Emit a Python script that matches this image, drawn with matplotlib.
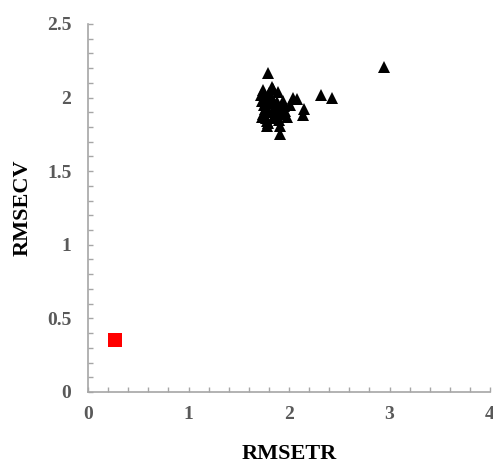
import matplotlib
matplotlib.use('Agg')
import matplotlib.pyplot as plt
from matplotlib.ticker import MultipleLocator

# RMSETR vs RMSECV values
tri_x = [1.79, 2.94, 2.32, 2.43, 2.15, 2.14, 1.91, 2.04, 2.08, 1.74, 1.83, 1.84, 1.89,
         1.94, 1.98, 1.78, 1.91, 1.72, 1.73, 1.75, 1.76, 1.74, 1.77, 1.78, 1.80, 1.81,
         1.82, 1.85, 1.86, 1.88, 1.90, 1.92, 1.95, 1.73, 1.76, 1.79, 1.83, 1.87, 1.93,
         1.75, 1.80, 1.84, 1.96, 2.01, 1.77]
tri_y = [2.17, 2.21, 2.02, 2.00, 1.92, 1.88, 1.75, 2.00, 1.99, 2.05, 2.07, 2.06, 2.04,
         1.98, 1.87, 1.81, 1.81, 2.02, 1.98, 1.95, 1.92, 1.89, 1.86, 1.84, 1.90, 1.96,
         2.01, 1.93, 1.88, 1.97, 1.85, 1.91, 1.94, 1.87, 2.00, 1.83, 1.98, 1.95, 1.89,
         1.99, 2.03, 1.86, 1.91, 1.95, 1.97]
sq_x = [0.27]
sq_y = [0.35]

plt.rcParams['font.family'] = ['Liberation Serif', 'DejaVu Serif']
fig = plt.figure(figsize=(4.93, 4.70), dpi=100)
ax = fig.add_axes([0.1785, 0.166, 0.8155, 0.783])

ax.plot(tri_x, tri_y, '^', color='black', markersize=8, markeredgewidth=0)
ax.plot(sq_x, sq_y, 's', color='#ff0000', markersize=10, markeredgewidth=0)

ax.set_xlim(0, 4)
ax.set_ylim(0, 2.5)
ax.xaxis.set_major_locator(MultipleLocator(1))
ax.xaxis.set_minor_locator(MultipleLocator(0.2))
ax.yaxis.set_minor_locator(MultipleLocator(0.1))
ax.set_yticks([0, 0.5, 1, 1.5, 2, 2.5])
ax.set_yticklabels(['0', '0.5', '1', '1.5', '2', '2.5'])

grey = '#a6a6a6'
for s in ['top', 'right']:
    ax.spines[s].set_visible(False)
for s in ['left', 'bottom']:
    ax.spines[s].set_color(grey)
    ax.spines[s].set_linewidth(1.2)
ax.tick_params(which='both', direction='in', length=3.5, width=1, color=grey,
               labelsize=14, labelcolor='#595959')
ax.tick_params(axis='x', pad=10)
ax.tick_params(axis='y', pad=12)
for lab in ax.get_xticklabels() + ax.get_yticklabels():
    lab.set_fontweight('bold')

ax.set_xlabel('RMSETR', fontsize=16, fontweight='bold', labelpad=15)
ax.set_ylabel('RMSECV', fontsize=16, fontweight='bold', labelpad=10)

fig.savefig('out.png', dpi=100)
